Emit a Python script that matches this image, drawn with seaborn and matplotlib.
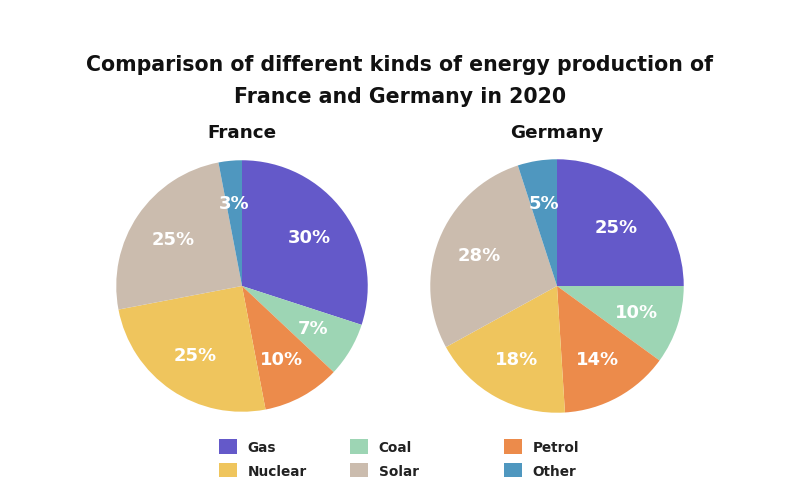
import matplotlib
matplotlib.use("Agg")
import matplotlib.pyplot as plt
import seaborn as sns
from matplotlib.patches import Patch

sns.set_theme(style="white")
plt.rcParams['font.family'] = ['DejaVu Sans']

# data
sources = ['Gas', 'Coal', 'Petrol', 'Nuclear', 'Solar', 'Other']
france = [30, 7, 10, 25, 25, 3]
germany = [25, 10, 14, 18, 28, 5]
colors = ['#6459c9', '#9dd5b4', '#ec8b4b', '#efc55d', '#cbbcae', '#4f97bf']

fig = plt.figure(figsize=(8, 5.02), dpi=100)
fig.patch.set_facecolor('white')

fig.text(0.5, 1 - 65 / 502, 'Comparison of different kinds of energy production of',
         ha='center', va='center', fontsize=14.8, fontweight='bold', color='#111111')
fig.text(0.5, 1 - 97 / 502, 'France and Germany in 2020',
         ha='center', va='center', fontsize=14.8, fontweight='bold', color='#111111')


def draw_pie(cx, cy, r, values, name):
    ax = fig.add_axes([(cx - r) / 800, (502 - cy - r) / 502, 2 * r / 800, 2 * r / 502])
    ax.pie(values, colors=colors, startangle=90, counterclock=False,
           autopct='%d%%', pctdistance=0.66,
           textprops=dict(color='white', fontsize=13, fontweight='bold'),
           wedgeprops=dict(linewidth=0))
    ax.set_xlim(-1.01, 1.01)
    ax.set_ylim(-1.01, 1.01)
    ax.set_aspect('equal')
    fig.text(cx / 800, 1 - 133 / 502, name, ha='center', va='center',
             fontsize=13.2, fontweight='bold', color='#111111')


draw_pie(242, 287, 127, france, 'France')
draw_pie(557, 287, 128, germany, 'Germany')

# legend: three columns (Gas/Nuclear, Coal/Solar, Petrol/Other)
columns = [[0, 3], [1, 4], [2, 5]]
col_x = [219, 350, 504]
for idx, x in zip(columns, col_x):
    handles = [Patch(facecolor=colors[i], edgecolor='none', label=sources[i]) for i in idx]
    leg = fig.legend(handles=handles, loc='center left',
                     bbox_to_anchor=(x / 800, 1 - 459.5 / 502),
                     frameon=False, fontsize=9.8, handlelength=1.3, handleheight=1.3,
                     handletextpad=0.8, labelspacing=0.6, borderpad=0, borderaxespad=0)
    for t in leg.get_texts():
        t.set_fontweight('bold')
        t.set_color('#222222')

fig.savefig('out.png', dpi=100)
